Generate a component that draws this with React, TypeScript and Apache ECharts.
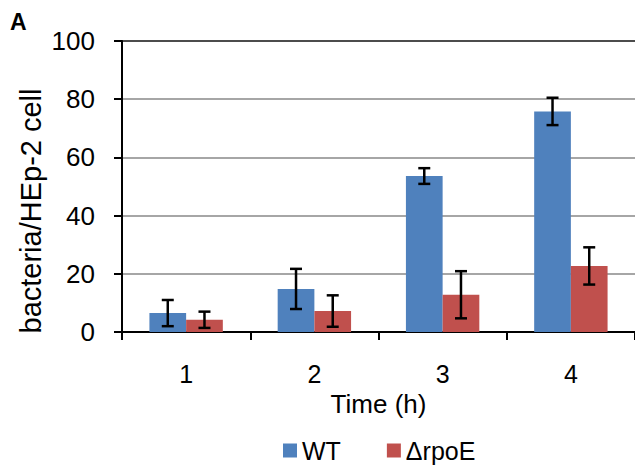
import React, { useEffect, useRef } from "react";
import * as echarts from "echarts";

const categories = ["1", "2", "3", "4"];
const wtValues = [6.5, 14.8, 53.6, 75.8];
const wtErrors = [4.5, 6.9, 2.7, 4.7];
const rpoEValues = [4.2, 7.2, 12.8, 22.7];
const rpoEErrors = [2.8, 5.4, 8.1, 6.4];
const yTicks = { min: 0, max: 100, interval: 20 };

const FONT = "'Liberation Sans', Arial, sans-serif";
const BAR_W = 36.7;

function errorSeries(name: string, values: number[], errors: number[], offset: number) {
  return {
    type: "custom",
    name: name + " error",
    silent: true,
    z: 10,
    data: values.map((v, i) => [i, v - errors[i], v + errors[i]]),
    renderItem: (params: any, api: any) => {
      const idx = api.value(0);
      const lo = api.coord([idx, api.value(1)]);
      const hi = api.coord([idx, api.value(2)]);
      const x = lo[0] + offset;
      const cap = 6;
      const style = { stroke: "#000", lineWidth: 2.5, fill: "none" };
      return {
        type: "group",
        children: [
          { type: "line", shape: { x1: x, y1: lo[1], x2: x, y2: hi[1] }, style },
          { type: "line", shape: { x1: x - cap, y1: lo[1], x2: x + cap, y2: lo[1] }, style },
          { type: "line", shape: { x1: x - cap, y1: hi[1], x2: x + cap, y2: hi[1] }, style },
        ],
      };
    },
  };
}

export default function App() {
  const ref = useRef<HTMLDivElement>(null);
  useEffect(() => {
    document.body.style.margin = "0";
    const chart = echarts.init(ref.current!, null, { renderer: "svg" });
    chart.setOption({
      animation: false,
      backgroundColor: "#fff",
      textStyle: { fontFamily: FONT },
      title: {
        text: "A",
        left: 10,
        top: 10,
        padding: 0,
        textStyle: { fontSize: 23, fontWeight: "bold", fontFamily: FONT, color: "#000" },
      },
      graphic: [
        {
          type: "text",
          x: 31,
          y: 211,
          rotation: Math.PI / 2,
          style: {
            text: "bacteria/HEp-2 cell",
            fontSize: 29,
            fontFamily: FONT,
            fill: "#000",
            align: "center",
            verticalAlign: "middle",
          },
        },
      ],
      legend: {
        left: 283,
        top: 438,
        padding: 0,
        itemWidth: 14,
        itemHeight: 14,
        itemGap: 46,
        icon: "rect",
        textStyle: { fontSize: 25, color: "#000", fontFamily: FONT },
        data: ["WT", "ΔrpoE"],
      },
      grid: { left: 122, top: 41, width: 516, height: 291 },
      xAxis: {
        type: "category",
        data: categories,
        name: "Time (h)",
        nameLocation: "middle",
        nameGap: 59,
        nameTextStyle: { fontSize: 26, color: "#000", fontFamily: FONT },
        axisLine: { lineStyle: { color: "#000", width: 2 } },
        axisTick: { show: true, length: 8, lineStyle: { color: "#000", width: 2 } },
        axisLabel: { fontSize: 25, color: "#000", margin: 29, fontFamily: FONT },
      },
      yAxis: {
        type: "value",
        min: yTicks.min,
        max: yTicks.max,
        interval: yTicks.interval,
        axisLine: { show: true, lineStyle: { color: "#000", width: 2 } },
        axisTick: { show: true, length: 8, lineStyle: { color: "#000", width: 2 } },
        axisLabel: { fontSize: 26, color: "#000", margin: 27, fontFamily: FONT },
        splitLine: {
          show: true,
          lineStyle: {
            color: ["#888", "#888", "#888", "#888", "#888", "#111"],
            width: 1.5,
          },
        },
      },
      series: [
        {
          type: "bar",
          name: "WT",
          data: wtValues,
          barWidth: BAR_W,
          barGap: "0%",
          itemStyle: { color: "#4F81BD" },
        },
        {
          type: "bar",
          name: "ΔrpoE",
          data: rpoEValues,
          barWidth: BAR_W,
          barGap: "0%",
          itemStyle: { color: "#C0504D" },
        },
        errorSeries("WT", wtValues, wtErrors, -BAR_W / 2),
        errorSeries("ΔrpoE", rpoEValues, rpoEErrors, BAR_W / 2),
      ],
    });
    return () => chart.dispose();
  }, []);
  return <div ref={ref} style={{ width: 635, height: 467 }} />;
}
